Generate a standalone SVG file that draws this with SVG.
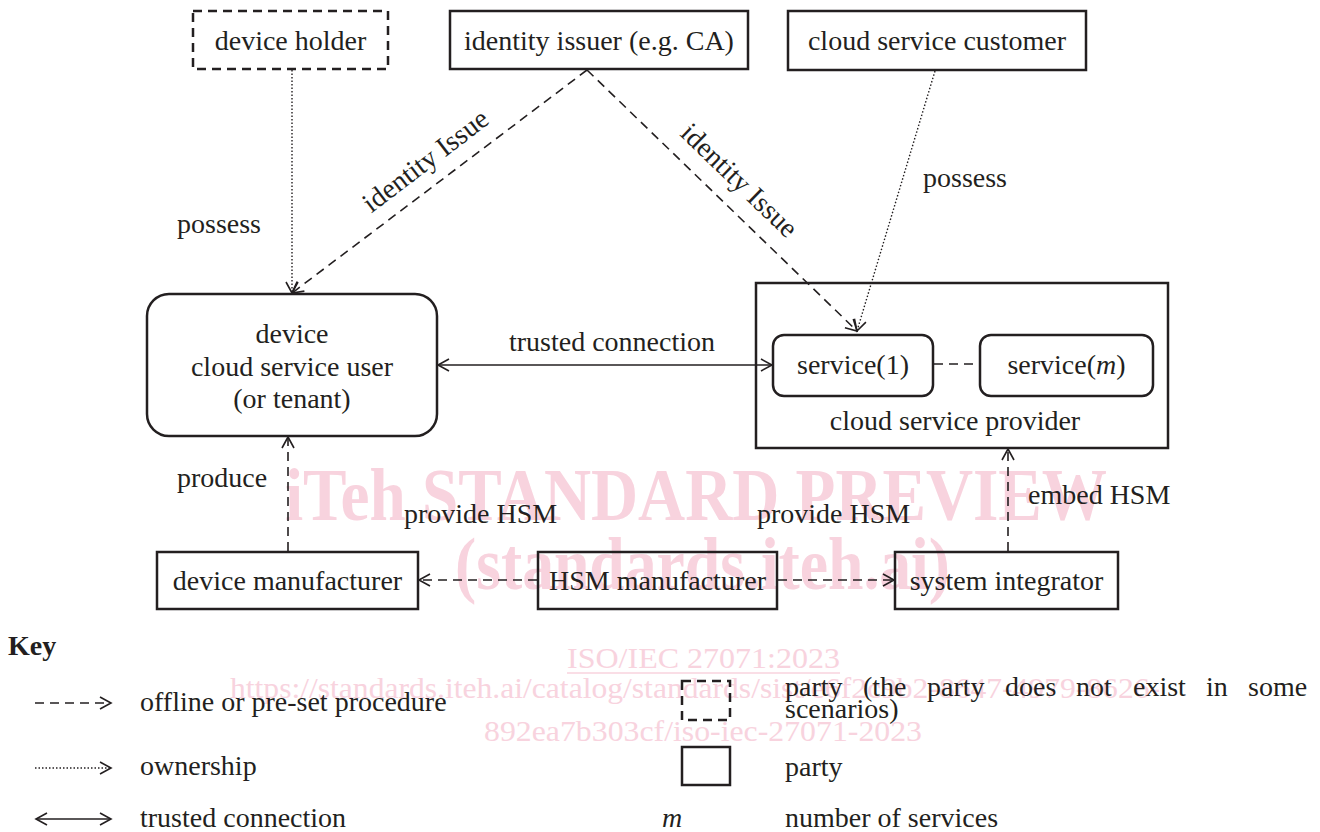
<svg xmlns="http://www.w3.org/2000/svg" width="1320" height="832" viewBox="0 0 1320 832">
  <style>
    text { font-family: "Liberation Serif", "Times New Roman", serif; fill: #231f20; font-size: 28px; }
    .c { text-anchor: middle; }
    .box { fill: none; stroke: #231f20; stroke-width: 2.5; }
    .dbox { fill: none; stroke: #231f20; stroke-width: 2.5; stroke-dasharray: 9 6; }
    .solid { fill: none; stroke: #231f20; stroke-width: 1.6; }
    .dash { fill: none; stroke: #231f20; stroke-width: 1.6; stroke-dasharray: 9 6; }
    .dot { fill: none; stroke: #231f20; stroke-width: 1.4; stroke-dasharray: 1.5 2; }
    text.wm { fill: #f8d3de; }
    text.wm-big { font-size: 74px; font-weight: bold; }
    text.wm-small { font-size: 30px; }
  </style>
  <defs>
    <marker id="arr" markerUnits="userSpaceOnUse" markerWidth="14" markerHeight="14" refX="12" refY="7" orient="auto-start-reverse">
      <path d="M1,1 L12,7 L1,13" fill="none" stroke="#231f20" stroke-width="1.6"/>
    </marker>
  </defs>

  <rect width="1320" height="832" fill="#ffffff"/>

  <!-- background watermark lettering -->
  <g id="watermark">
    <text class="wm wm-big" x="285" y="520" textLength="822" lengthAdjust="spacingAndGlyphs">iTeh STANDARD PREVIEW</text>
    <text class="wm wm-big" x="455" y="589" textLength="495" lengthAdjust="spacingAndGlyphs">(standards.iteh.ai)</text>
    <text class="wm wm-small" x="567" y="668" textLength="273" lengthAdjust="spacingAndGlyphs">ISO/IEC 27071:2023</text>
    <line x1="567" y1="673" x2="840" y2="673" stroke="#f8d3de" stroke-width="1.5"/>
    <text class="wm wm-small" x="230" y="698" textLength="930" lengthAdjust="spacingAndGlyphs">https://standards.iteh.ai/catalog/standards/sist/e6f2c9b2-8647-4979-8626-</text>
    <text class="wm wm-small" x="484" y="741" textLength="438" lengthAdjust="spacingAndGlyphs">892ea7b303cf/iso-iec-27071-2023</text>
  </g>

  <!-- connectors -->
  <g id="connectors">
    <line class="dot" x1="292" y1="70" x2="292" y2="293" marker-end="url(#arr)"/>
    <line class="dash" x1="587" y1="70" x2="292" y2="293" marker-end="url(#arr)"/>
    <line class="dash" x1="587" y1="70" x2="857" y2="331" marker-end="url(#arr)"/>
    <line class="dot" x1="935" y1="71" x2="857" y2="331" marker-end="url(#arr)"/>
    <line class="solid" x1="438" y1="365" x2="772" y2="365" marker-start="url(#arr)" marker-end="url(#arr)"/>
    <line class="dash" x1="934" y1="364" x2="980" y2="364"/>
    <line class="dash" x1="288" y1="551" x2="288" y2="437" marker-end="url(#arr)"/>
    <line class="dash" x1="1008" y1="551" x2="1008" y2="449" marker-end="url(#arr)"/>
    <line class="dash" x1="537" y1="580" x2="419" y2="580" marker-end="url(#arr)"/>
    <line class="dash" x1="778" y1="580" x2="894" y2="580" marker-end="url(#arr)"/>

    <text x="177" y="233">possess</text>
    <text x="923" y="187">possess</text>
    <text class="c" transform="translate(431 168) rotate(-37.3)">identity Issue</text>
    <text class="c" transform="translate(733 187) rotate(44)">identity Issue</text>
    <text class="c" x="612" y="351">trusted connection</text>
    <text x="177" y="487">produce</text>
    <text x="1028" y="504">embed HSM</text>
    <text x="404" y="523">provide HSM</text>
    <text x="757" y="523">provide HSM</text>
  </g>

  <!-- parties -->
  <g id="device-holder">
    <rect class="dbox" x="193" y="11" width="195" height="58"/>
    <text class="c" x="290.5" y="50">device holder</text>
  </g>
  <g id="identity-issuer">
    <rect class="box" x="450" y="11" width="298" height="58"/>
    <text class="c" x="599" y="50">identity issuer (e.g. CA)</text>
  </g>
  <g id="cloud-service-customer">
    <rect class="box" x="788" y="11" width="298" height="59"/>
    <text class="c" x="937" y="50">cloud service customer</text>
  </g>
  <g id="device">
    <rect class="box" x="147" y="294" width="290" height="142" rx="22"/>
    <text class="c" x="292" y="343">device</text>
    <text class="c" x="292" y="376">cloud service user</text>
    <text class="c" x="292" y="408">(or tenant)</text>
  </g>
  <g id="cloud-service-provider">
    <rect class="box" x="756" y="283" width="412" height="165"/>
    <text class="c" x="955" y="430">cloud service provider</text>
  </g>
  <g id="service-1">
    <rect class="box" x="773" y="335" width="160" height="61" rx="11"/>
    <text class="c" x="853" y="374">service(1)</text>
  </g>
  <g id="service-m">
    <rect class="box" x="980" y="335" width="173" height="61" rx="11"/>
    <text class="c" x="1066.5" y="374">service(<tspan font-style="italic">m</tspan>)</text>
  </g>
  <g id="device-manufacturer">
    <rect class="box" x="157" y="552" width="261" height="57"/>
    <text class="c" x="287.5" y="590">device manufacturer</text>
  </g>
  <g id="hsm-manufacturer">
    <rect class="box" x="538" y="552" width="239" height="57"/>
    <text class="c" x="657.5" y="590">HSM manufacturer</text>
  </g>
  <g id="system-integrator">
    <rect class="box" x="895" y="552" width="223" height="57"/>
    <text class="c" x="1006.5" y="590">system integrator</text>
  </g>

  <!-- key -->
  <g id="key">
    <text x="8" y="655" font-weight="bold">Key</text>
    <line class="dash" x1="35" y1="703" x2="111" y2="703" stroke-dasharray="6 4" marker-end="url(#arr)"/>
    <text x="140" y="711">offline or pre-set procedure</text>
    <line class="dot" x1="35" y1="768" x2="111" y2="768" stroke-width="1" stroke-dasharray="1 1.5" marker-end="url(#arr)"/>
    <text x="140" y="775">ownership</text>
    <line class="solid" x1="36" y1="819" x2="111" y2="819" marker-start="url(#arr)" marker-end="url(#arr)"/>
    <text x="140" y="827">trusted connection</text>

    <rect class="dbox" x="682" y="681" width="48" height="39" stroke-dasharray="6 4"/>
    <text y="696"><tspan x="785">party</tspan><tspan x="863">(the</tspan><tspan x="927">party</tspan><tspan x="1005">does</tspan><tspan x="1076">not</tspan><tspan x="1133">exist</tspan><tspan x="1206">in</tspan><tspan x="1248">some</tspan></text>
    <text x="785" y="718">scenarios)</text>
    <rect class="box" x="682" y="747" width="48" height="38"/>
    <text x="785" y="776">party</text>
    <text x="662" y="827" font-style="italic">m</text>
    <text x="785" y="827">number of services</text>
  </g>
</svg>
